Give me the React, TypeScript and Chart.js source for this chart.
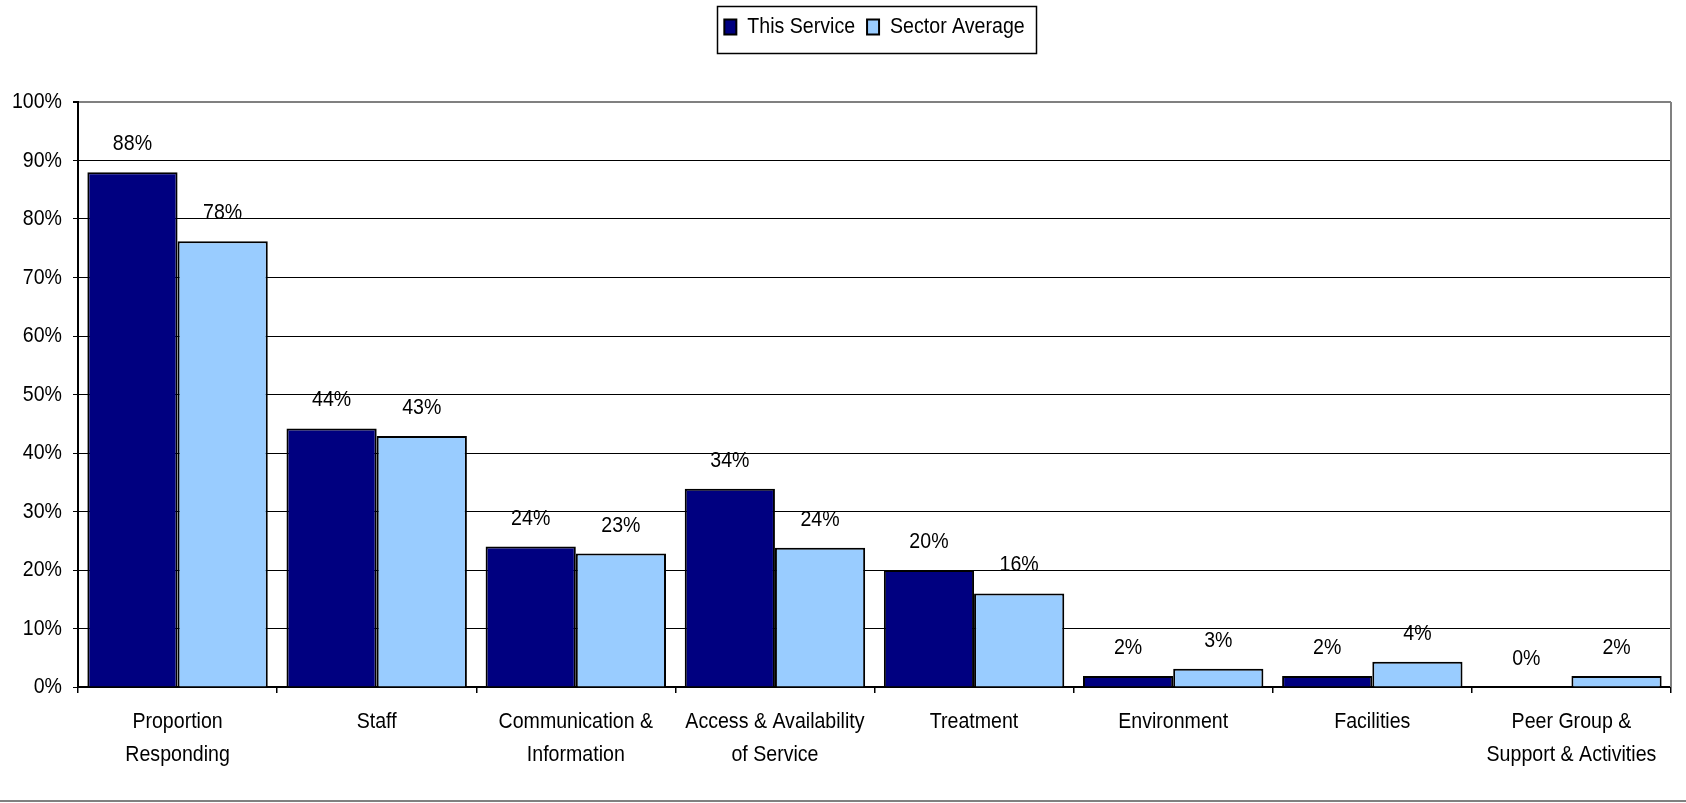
import React, { useEffect, useRef } from 'react';
import { Chart, registerables } from 'chart.js';

Chart.register(...registerables);

const categories: (string | string[])[] = [
  ['Proportion', 'Responding'],
  ['Staff'],
  ['Communication &', 'Information'],
  ['Access & Availability', 'of Service'],
  ['Treatment'],
  ['Environment'],
  ['Facilities'],
  ['Peer Group &', 'Support & Activities'],
];

const seriesNames = ['This Service', 'Sector Average'];
const thisService = [88, 44.2, 24, 33.9, 20, 1.9, 1.9, 0];
const sectorAverage = [76.2, 42.9, 22.8, 23.8, 16, 3.1, 4.3, 1.9];
const thisServiceLabels = ['88%', '44%', '24%', '34%', '20%', '2%', '2%', '0%'];
const sectorAverageLabels = ['78%', '43%', '23%', '24%', '16%', '3%', '4%', '2%'];
const yMin = 0;
const yMax = 100;
const yStep = 10;

const FONT = "'Liberation Sans', Arial, sans-serif";
const FONT_SIZE = 22;
const NARROW = 0.89;
const W = 1686;
const H = 803;
const LEGEND_EXTRA = 54;

// Make text rendered by this canvas horizontally condensed (Arial Narrow look)
function narrowContext(ctx: any) {
  if (!ctx || ctx.__narrow) return;
  const origFill = ctx.fillText.bind(ctx);
  const origMeasure = ctx.measureText.bind(ctx);
  ctx.fillText = (text: string, x: number, y: number, maxWidth?: number) => {
    ctx.save();
    ctx.translate(x, y);
    ctx.scale(NARROW, 1);
    if (maxWidth !== undefined && maxWidth !== null && isFinite(maxWidth)) {
      origFill(text, 0, 0, maxWidth / NARROW);
    } else {
      origFill(text, 0, 0);
    }
    ctx.restore();
  };
  ctx.measureText = (text: string) => {
    const m = origMeasure(text);
    return {
      width: m.width * NARROW,
      actualBoundingBoxLeft: m.actualBoundingBoxLeft * NARROW,
      actualBoundingBoxRight: m.actualBoundingBoxRight * NARROW,
      actualBoundingBoxAscent: m.actualBoundingBoxAscent,
      actualBoundingBoxDescent: m.actualBoundingBoxDescent,
      fontBoundingBoxAscent: m.fontBoundingBoxAscent,
      fontBoundingBoxDescent: m.fontBoundingBoxDescent,
    };
  };
  ctx.__narrow = true;
}

const legendPatch = {
  id: 'legendPatch',
  beforeLayout(chart: any) {
    const lg: any = chart.legend;
    if (lg && !lg.__patched) {
      const orig = lg.fit.bind(lg);
      lg.fit = function () {
        orig();
        this.height += LEGEND_EXTRA;
      };
      lg.__patched = true;
    }
  },
  afterLayout(chart: any) {
    const lg: any = chart.legend;
    if (lg) {
      const shift = (chart.chartArea.left + chart.chartArea.right - (lg.left + lg.right)) / 2;
      lg.left += shift;
      lg.right += shift;
      (lg.legendHitBoxes || []).forEach((h: any) => {
        h.left += shift;
      });
    }
  },
  afterDraw(chart: any) {
    const lg: any = chart.legend;
    const ctx = chart.ctx;
    if (lg && lg.legendHitBoxes && lg.legendHitBoxes.length) {
      const hb = lg.legendHitBoxes;
      let l = Infinity, r = -Infinity, t = Infinity, b = -Infinity;
      hb.forEach((h: any) => {
        l = Math.min(l, h.left);
        r = Math.max(r, h.left + h.width);
        t = Math.min(t, h.top);
        b = Math.max(b, h.top + h.height);
      });
      ctx.save();
      ctx.strokeStyle = '#000';
      ctx.lineWidth = 1.5;
      ctx.strokeRect(Math.round(l - 7) + 0.5, Math.round(t - 10) + 0.5, Math.round(r - l + 19), Math.round(b - t + 25));
      ctx.restore();
    }
    const a = chart.chartArea;
    ctx.save();
    ctx.fillStyle = '#808080';
    ctx.fillRect(Math.round(a.right) - 1, a.top, 2, a.bottom - a.top);
    ctx.fillRect(0, H - 3, W, 2);
    ctx.restore();
  },
};

const valueLabels = {
  id: 'valueLabels',
  afterDatasetsDraw(chart: any) {
    const ctx = chart.ctx;
    ctx.save();
    ctx.font = `${FONT_SIZE}px ${FONT}`;
    ctx.fillStyle = '#000';
    ctx.textAlign = 'center';
    ctx.textBaseline = 'middle';
    chart.data.datasets.forEach((ds: any, di: number) => {
      const meta = chart.getDatasetMeta(di);
      meta.data.forEach((el: any, i: number) => {
        ctx.fillText(ds.valueLabels[i], el.x, el.y - 28);
      });
    });
    ctx.restore();
  },
};

export default function App() {
  const ref = useRef<HTMLCanvasElement | null>(null);

  useEffect(() => {
    if (!ref.current) return;
    narrowContext(ref.current.getContext('2d'));
    const chart = new Chart(ref.current, {
      type: 'bar',
      data: {
        labels: categories as any,
        datasets: [
          {
            label: seriesNames[0],
            data: thisService,
            backgroundColor: '#000080',
            borderColor: '#000000',
            borderWidth: 2,
            categoryPercentage: 0.906,
            barPercentage: 1,
            valueLabels: thisServiceLabels,
          } as any,
          {
            label: seriesNames[1],
            data: sectorAverage,
            backgroundColor: '#99CCFF',
            borderColor: '#000000',
            borderWidth: 2,
            categoryPercentage: 0.906,
            barPercentage: 1,
            valueLabels: sectorAverageLabels,
          } as any,
        ],
      },
      options: {
        animation: false,
        responsive: true,
        maintainAspectRatio: false,
        layout: { padding: { top: 4, left: 0, right: 15, bottom: 0 } },
        plugins: {
          legend: {
            display: true,
            position: 'top',
            labels: {
              boxWidth: 12,
              boxHeight: 15,
              padding: 12,
              color: '#000',
              font: { family: FONT, size: FONT_SIZE },
            },
          },
          tooltip: { enabled: false },
        },
        scales: {
          x: {
            grid: {
              display: true,
              drawOnChartArea: false,
              drawTicks: true,
              tickLength: 6,
              color: '#000',
              lineWidth: 1.5,
            },
            border: { display: true, color: '#000', width: 2 },
            ticks: {
              autoSkip: false,
              maxRotation: 0,
              minRotation: 0,
              padding: 12,
              color: '#000',
              font: { family: FONT, size: FONT_SIZE, lineHeight: 1.5 },
            },
            afterFit(scale: any) {
              scale.height = 116;
            },
          },
          y: {
            min: yMin,
            max: yMax,
            ticks: {
              stepSize: yStep,
              padding: 11,
              color: '#000',
              font: { family: FONT, size: FONT_SIZE },
              callback: (v: any) => `${v}%`,
            },
            grid: {
              color: (c: any) => (c.tick && c.tick.value === yMax ? '#808080' : '#000'),
              lineWidth: (c: any) => (c.tick && c.tick.value === yMax ? 2 : 1),
              tickColor: '#000',
              tickLength: 5,
              drawTicks: true,
            },
            border: { display: true, color: '#000', width: 2 },
            afterFit(scale: any) {
              scale.width = 78;
            },
          },
        },
      },
      plugins: [legendPatch, valueLabels],
    });
    return () => chart.destroy();
  }, []);

  return (
    <div style={{ position: 'fixed', left: 0, top: 0, width: W, height: H, background: '#fff' }}>
      <canvas ref={ref} />
    </div>
  );
}
